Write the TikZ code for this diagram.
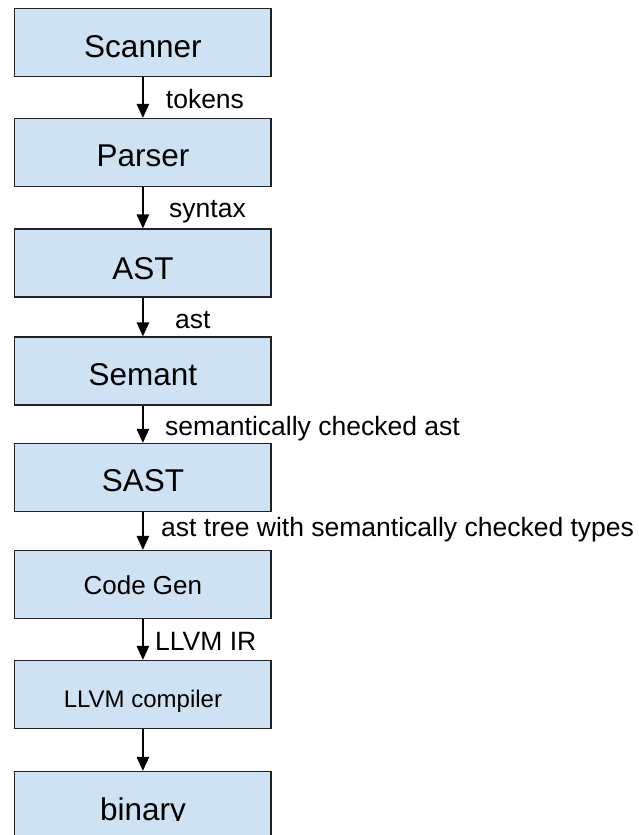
\documentclass[tikz,border=0pt]{standalone}
\usepackage{fontspec}
\setmainfont{Liberation Sans}
\usetikzlibrary{arrows.meta}
\definecolor{boxfill}{HTML}{CFE2F3}
\definecolor{boxline}{HTML}{222222}
\tikzset{
  stagebox/.style={draw=boxline, fill=boxfill, line width=1.3pt, rectangle,
    minimum width=256.3pt, minimum height=68pt, inner sep=0pt,
    text height=30pt, text depth=0pt, font=\fontsize{31.5}{36}\selectfont},
  flowarrow/.style={draw=black, line width=1.3pt, -{Triangle[length=14pt,width=12.5pt]}},
  flowlabel/.style={anchor=base west, inner sep=0pt, font=\fontsize{26.5}{30}\selectfont}
}
\begin{document}
\begin{tikzpicture}[x=1pt,y=1pt]
\useasboundingbox (0,0) rectangle (639,-835);
\node[stagebox] (scanner) at (142.9,-42.5) {Scanner};
\node[stagebox, text height=28pt] (parser) at (142.9,-152.5) {Parser};
\node[stagebox, text height=32pt] (ast) at (142.9,-263) {AST};
\node[stagebox, text height=28pt] (semant) at (142.9,-371) {Semant};
\node[stagebox, text height=28pt] (sast) at (142.9,-477.5) {SAST};
\node[stagebox, text height=20pt, font=\fontsize{26}{30}\selectfont] (codegen) at (142.9,-584.5) {Code Gen};
\node[stagebox, text height=26pt, font=\fontsize{24}{28}\selectfont] (llvm) at (142.9,-694.5) {LLVM compiler};
\node[stagebox] (binary) at (142.9,-805.5) {};
\begin{scope}
  \clip (0,-760) rectangle (639,-820.5);
  \node[anchor=base, inner sep=0pt, font=\fontsize{31.5}{36}\selectfont] (binarytext) at (142.9,-820) {binary};
\end{scope}
\draw[flowarrow] (scanner.south) -- (parser.north);
\draw[flowarrow] (parser.south) -- (ast.north);
\draw[flowarrow] (ast.south) -- (semant.north);
\draw[flowarrow] (semant.south) -- (sast.north);
\draw[flowarrow] (sast.south) -- (codegen.north);
\draw[flowarrow] (codegen.south) -- (llvm.north);
\draw[flowarrow] (llvm.south) -- (binary.north);
\node[flowlabel] (l1) at (165.7,-108.3) {tokens};
\node[flowlabel] (l2) at (169,-217.5) {syntax};
\node[flowlabel] (l3) at (175,-328) {ast};
\node[flowlabel] (l4) at (165,-435) {semantically checked ast};
\node[flowlabel] (l5) at (161,-536.7) {ast tree with semantically checked types};
\node[flowlabel] (l6) at (155,-650.7) {LLVM IR};
\end{tikzpicture}
\end{document}
